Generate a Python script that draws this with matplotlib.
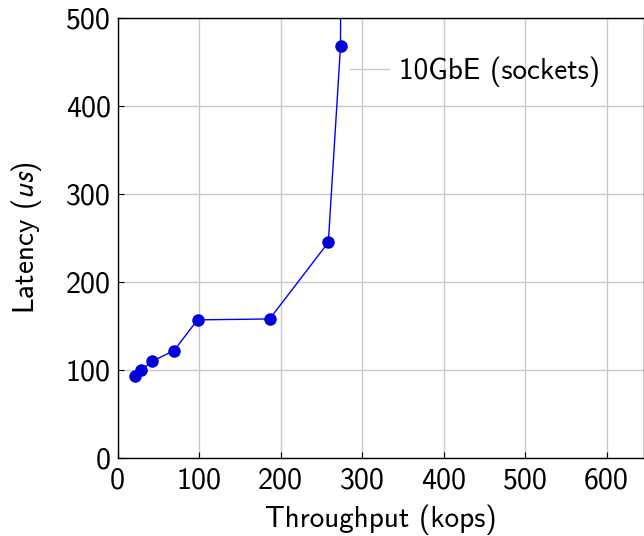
import matplotlib.pyplot as plt
from matplotlib.lines import Line2D

plt.rcParams['font.family'] = ['cmss10', 'DejaVu Sans']
plt.rcParams['mathtext.fontset'] = 'stixsans'
plt.rcParams['axes.unicode_minus'] = False

# 10GbE (sockets) measurements
throughput = [21, 29, 42.5, 69, 98, 186.5, 258.5, 273.5, 274.5]
latency = [93, 100, 110, 122, 157, 158, 245, 468.5, 1200]

fig = plt.figure(figsize=(6.44, 5.36), dpi=100)
ax = fig.add_axes([0.1828, 0.1455, 1 - 0.1828, 0.9664 - 0.1455])

ax.plot(throughput, latency, color='blue', lw=1, marker='o', ms=8,
        mfc='#0000dd', mec='#0000dd', clip_on=True)

ax.set_xlim(0, 646)
ax.set_ylim(0, 500)
ax.set_xticks(range(0, 700, 100))
ax.set_yticks(range(0, 600, 100))
ax.grid(True, color='#c8c8c8', lw=1)
ax.set_axisbelow(True)
ax.tick_params(direction='in', length=4, labelsize=21.5)
ax.tick_params(axis='x', pad=7)
ax.tick_params(axis='y', pad=5)
for s in ax.spines.values():
    s.set_linewidth(1)

ax.set_xlabel('Throughput (kops)', fontsize=21, labelpad=7)
ax.set_ylabel('Latency ($us$)', fontsize=21, labelpad=16)

handle = Line2D([], [], color='#c8c8c8', lw=1)
fig.legend([handle], ['10GbE (sockets)'], loc='center left',
           bbox_to_anchor=(0.502, 0.866), frameon=False, fontsize=21,
           handlelength=1.37, handletextpad=0.32)

fig.savefig('out.png', dpi=100)
